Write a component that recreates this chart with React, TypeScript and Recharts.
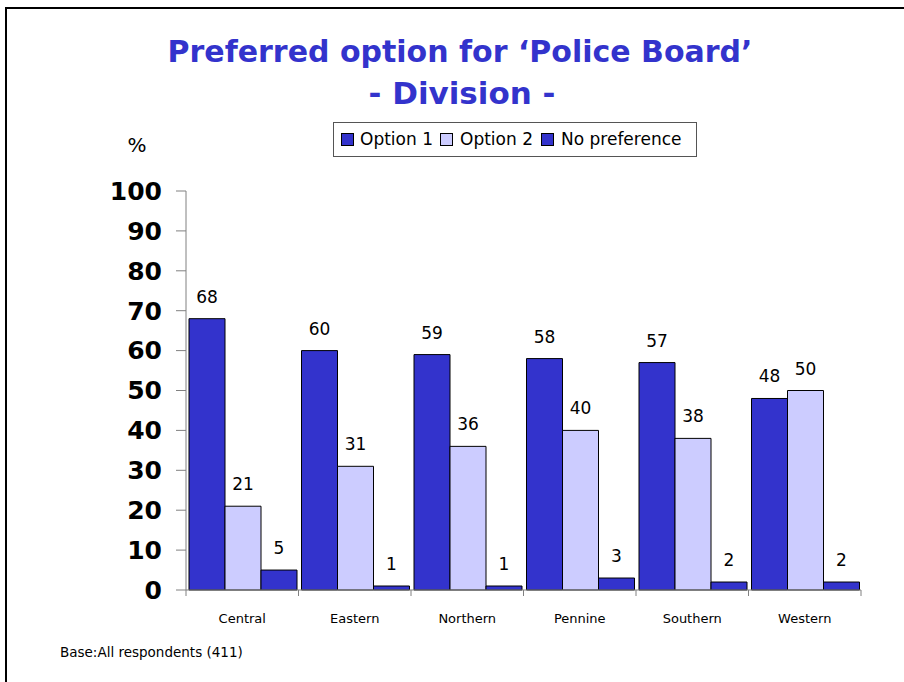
import React from 'react';
import { BarChart, Bar, XAxis, YAxis, LabelList } from 'recharts';

const categories = ['Central', 'Eastern', 'Northern', 'Pennine', 'Southern', 'Western'];
const option1 = [68, 60, 59, 58, 57, 48];
const option2 = [21, 31, 36, 40, 38, 50];
const noPreference = [5, 1, 1, 3, 2, 2];
const yTicks = [0, 10, 20, 30, 40, 50, 60, 70, 80, 90, 100];
const seriesNames = ['Option 1', 'Option 2', 'No preference'];
const seriesKeys = ['option1', 'option2', 'noPreference'];
const seriesColors = ['#3333CC', '#CCCCFF', '#3333CC'];

const titleLine1 = 'Preferred option for \u2018Police Board\u2019';
const titleLine2 = '- Division -';
const yUnit = '%';
const baseNote = 'Base:All respondents (411)';

const data = categories.map((c, i) => ({
  division: c,
  option1: option1[i],
  option2: option2[i],
  noPreference: noPreference[i],
}));

const W = 904;
const H = 682;
const PLOT_LEFT = 186;
const PLOT_RIGHT = 861;
const PLOT_TOP = 191;
const PLOT_BOTTOM = 590;
const X_AXIS_H = 40;
const BAND = (PLOT_RIGHT - PLOT_LEFT) / categories.length;
const FONT = '"DejaVu Sans", "Noto Sans", sans-serif';

const XTick = (props: any) => {
  const { x, y, payload, index } = props;
  return (
    <g>
      <line x1={x - BAND / 2} x2={x - BAND / 2} y1={y} y2={y + 6} stroke="#808080" strokeWidth={1} />
      {index === categories.length - 1 && (
        <line x1={x + BAND / 2} x2={x + BAND / 2} y1={y} y2={y + 6} stroke="#808080" strokeWidth={1} />
      )}
      <text x={x} y={y + 33} textAnchor="middle" fontSize={13} fontFamily={FONT} fill="#000">
        {payload.value}
      </text>
    </g>
  );
};

const legendOffsets = [
  { sq: 8, tx: 27 },
  { sq: 107, tx: 127 },
  { sq: 208, tx: 228 },
];

const LegendBox = () => (
  <div
    style={{
      position: 'absolute',
      left: 333,
      top: 122,
      width: 364,
      height: 35,
      boxSizing: 'border-box',
      border: '1px solid #555',
      background: '#fff',
      fontFamily: FONT,
      fontSize: 17,
      color: '#000',
    }}
  >
    {seriesNames.map((name, i) => (
      <React.Fragment key={name}>
        <div
          style={{
            position: 'absolute',
            left: legendOffsets[i].sq - 1,
            top: 10,
            width: 11,
            height: 11,
            background: seriesColors[i],
            border: '1px solid #000',
          }}
        />
        <div style={{ position: 'absolute', left: legendOffsets[i].tx - 1, top: 5, whiteSpace: 'nowrap', lineHeight: '22px' }}>
          {name}
        </div>
      </React.Fragment>
    ))}
  </div>
);

export default function App() {
  return (
    <div style={{ position: 'absolute', left: 0, top: 0, width: W, height: H, background: '#fff', overflow: 'hidden' }}>
      <div
        style={{
          position: 'absolute',
          left: 5,
          top: 7,
          width: W,
          height: H,
          borderLeft: '2px solid #000',
          borderTop: '2px solid #000',
        }}
      />
      <BarChart
        width={W}
        height={H}
        data={data}
        margin={{ top: PLOT_TOP, right: W - PLOT_RIGHT, bottom: H - PLOT_BOTTOM - X_AXIS_H, left: 0 }}
        barCategoryGap={3}
        barGap={0}
      >
        <XAxis
          dataKey="division"
          height={X_AXIS_H}
          axisLine={{ stroke: '#808080' }}
          tickLine={false}
          tickSize={0}
          tickMargin={0}
          interval={0}
          tick={<XTick />}
        />
        <YAxis
          width={PLOT_LEFT}
          domain={[0, 100]}
          ticks={yTicks}
          interval={0}
          axisLine={{ stroke: '#808080' }}
          tickLine={{ stroke: '#808080' }}
          tickSize={10}
          tickMargin={14}
          tick={{ fontSize: 25, fontWeight: 'bold', fill: '#000', fontFamily: FONT }}
        />
        {seriesKeys.map((k, i) => (
          <Bar key={k} dataKey={k} name={seriesNames[i]} fill={seriesColors[i]} stroke="#000" strokeWidth={1} isAnimationActive={false}>
            <LabelList dataKey={k} position="top" offset={16} fontSize={17} fill="#000" fontFamily={FONT} />
          </Bar>
        ))}
      </BarChart>
      <LegendBox />
      <svg width={W} height={H} style={{ position: 'absolute', left: 0, top: 0, pointerEvents: 'none' }}>
        <text x={460} y={62} textAnchor="middle" fontSize={30} fontWeight="bold" fill="#3333CC" fontFamily={FONT}>
          {titleLine1}
        </text>
        <text x={462} y={104} textAnchor="middle" fontSize={31} fontWeight="bold" fill="#3333CC" fontFamily={FONT}>
          {titleLine2}
        </text>
        <text x={137} y={152} textAnchor="middle" fontSize={20} fill="#000" fontFamily={FONT}>
          {yUnit}
        </text>
        <text x={60} y={657} fontSize={13.5} fill="#000" fontFamily={FONT}>
          {baseNote}
        </text>
      </svg>
    </div>
  );
}
